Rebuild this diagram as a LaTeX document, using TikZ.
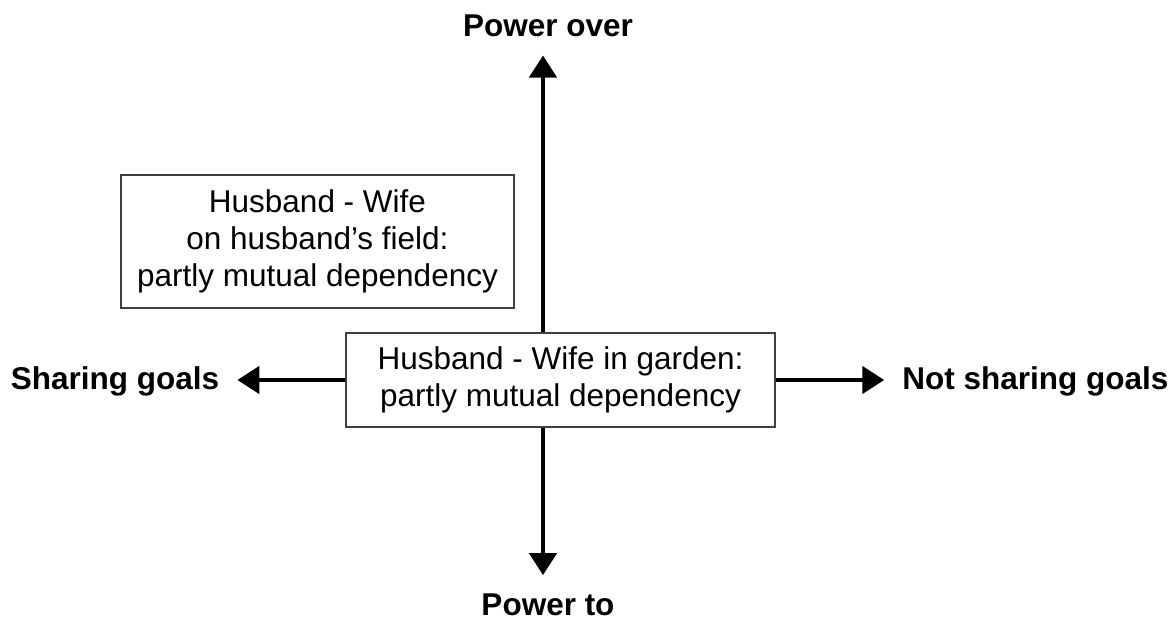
\documentclass[tikz,border=0pt]{standalone}
\usepackage{fontspec}
\setmainfont{Liberation Sans}
\usetikzlibrary{arrows.meta, calc}

\begin{document}
\begin{tikzpicture}[x=1pt, y=1pt,
		axis/.style={line width=4.5pt, -{Triangle[length=22pt, width=27pt]}},
		box/.style={draw=black!75, line width=1.4pt, fill=white, align=center, font=\fontsize{31.5}{37}\selectfont},
		axislabel/.style={inner sep=18pt, font=\bfseries\fontsize{31.5}{37}\selectfont}]
			\useasboundingbox (0, 0) rectangle (1170, 624);
			\coordinate (O) at (543, 244);
			
			\node [box, minimum width=429pt, minimum height=94pt] (garden) at (560.5, 244) {Husband - Wife in garden:\\partly mutual dependency};
			\node [box, minimum width=393pt, minimum height=133pt] (field) at (317.5, 382.5) {Husband - Wife\\on husband’s field:\\partly mutual dependency};
			
			\node [axislabel, anchor=base] (over) at (548, 587) {Power over};
			\node [axislabel, anchor=base] (to) at (548, 9) {Power to};
			\node [axislabel, anchor=base] (share) at (115, 234) {Sharing goals};
			\node [axislabel, anchor=base] (notshare) at (1035.5, 234) {Not sharing goals};
			
			\draw[axis] (garden.north -| O) -- (over.south -| O);
			\draw[axis] (garden.south -| O) -- (to.north -| O);
			\draw[axis] (garden.west) -- (share.east |- O);
			\draw[axis] (garden.east) -- (notshare.west |- O);
		\end{tikzpicture}
\end{document}
